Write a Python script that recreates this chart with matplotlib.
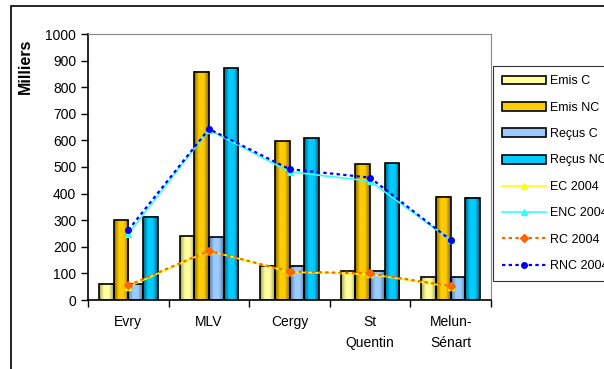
import numpy as np
import matplotlib
matplotlib.use("Agg")
import matplotlib.pyplot as plt
from matplotlib.colors import LinearSegmentedColormap
from matplotlib.patches import Patch, Rectangle
from matplotlib.lines import Line2D

plt.rcParams['font.family'] = ['Liberation Sans', 'DejaVu Sans']

sites = ["Evry", "MLV", "Cergy", "St\nQuentin", "Melun-\nSénart"]

emis_c = [62, 240, 129, 110, 86]
emis_nc = [300, 858, 597, 510, 388]
recus_c = [60, 235, 129, 110, 86]
recus_nc = [313, 872, 608, 515, 385]

ec_2004 = [50, 185, 105, 97, 50]
enc_2004 = [248, 640, 482, 447, 225]
rc_2004 = [55, 185, 107, 100, 52]
rnc_2004 = [263, 643, 492, 460, 225]

bar_names = ["Emis C", "Emis NC", "Reçus C", "Reçus NC"]
bar_series = [emis_c, emis_nc, recus_c, recus_nc]
# (edge shade, centre colour) for the excel-like gradient fill
bar_cols = [("#a3a35a", "#ffff9e"), ("#8a6a00", "#ffcc00"),
            ("#55789e", "#9cccff"), ("#00627f", "#00ccff")]

fig = plt.figure(figsize=(6.04, 3.69), dpi=100)
ax = fig.add_axes([88/604, 1-300/369, (491-88)/604, (300-34)/369])

n = len(sites)
x = np.arange(n)
w = 1/5.5
for i, (vals, (dark, light)) in enumerate(zip(bar_series, bar_cols)):
    cmap = LinearSegmentedColormap.from_list("g", [dark, light, light, dark])
    grad = np.linspace(0, 1, 64).reshape(1, -1)
    pos = x + (i - 1.5) * w
    for p, v in zip(pos, vals):
        ax.imshow(grad, cmap=cmap, extent=(p - w/2, p + w/2, 0, v),
                  aspect='auto', zorder=2, interpolation='bilinear')
    ax.bar(pos, vals, width=w, facecolor='none', edgecolor='black',
           linewidth=1.2, zorder=3)

ax.plot(x, ec_2004, color='#ffff00', lw=1.2, marker='^', ms=5, zorder=5)
ax.plot(x, enc_2004, color='#33ffff', lw=1.2, marker='^', ms=5, zorder=5)
ax.plot(x, rc_2004, color='#ff6600', lw=1.6, ls=(0, (1.5, 1.5)), marker='D', ms=4, zorder=6)
ax.plot(x, rnc_2004, color='#0000ff', lw=1.6, ls=(0, (1.5, 1.5)), marker='o', ms=4, zorder=6)

ax.set_xlim(-0.5, n - 0.5)
ax.set_ylim(0, 1000)
ax.set_yticks(np.arange(0, 1001, 100))
ax.tick_params(axis='y', labelsize=10, length=5, direction='out', width=1)
ax.set_xticks(x)
ax.set_xticklabels(sites, fontsize=10, linespacing=1.65)
ax.tick_params(axis='x', length=0, pad=11)
ax.set_xticks(np.arange(-0.5, n, 1), minor=True)
ax.tick_params(axis='x', which='minor', length=5, direction='out', width=1)
for s in ['top', 'right']:
    ax.spines[s].set_color('#888888')
for s in ['left', 'bottom']:
    ax.spines[s].set_color('black')
    ax.spines[s].set_linewidth(1.2)

fig.text(25/604, 1-66/369, "Milliers", rotation=90, fontsize=11.5,
         fontweight='bold', ha='center', va='center')

handles = [Patch(facecolor=c[1], edgecolor='black', linewidth=1.2) for c in bar_cols]
handles += [
    Line2D([], [], color='#ffff00', lw=1.2, marker='^', ms=5),
    Line2D([], [], color='#33ffff', lw=1.2, marker='^', ms=5),
    Line2D([], [], color='#ff6600', lw=1.6, ls=(0, (1.5, 1.5)), marker='D', ms=4),
    Line2D([], [], color='#0000ff', lw=1.6, ls=(0, (1.5, 1.5)), marker='o', ms=4),
]
labels = bar_names + ["EC 2004", "ENC 2004", "RC 2004", "RNC 2004"]
leg = fig.legend(handles, labels, loc='upper left',
                 bbox_to_anchor=(493/604, 1-66/369), fontsize=9,
                 frameon=True, fancybox=False, edgecolor='black',
                 handlelength=3.5, labelspacing=1.15, handletextpad=0.3,
                 borderpad=0.75, borderaxespad=0)
leg.get_frame().set_linewidth(0.8)

fig.add_artist(Rectangle((10.5/604, -0.1), 1.0, 1.1 - 6/369,
                         transform=fig.transFigure, fill=False,
                         edgecolor='black', linewidth=1.2))

fig.savefig("out.png", dpi=100)
